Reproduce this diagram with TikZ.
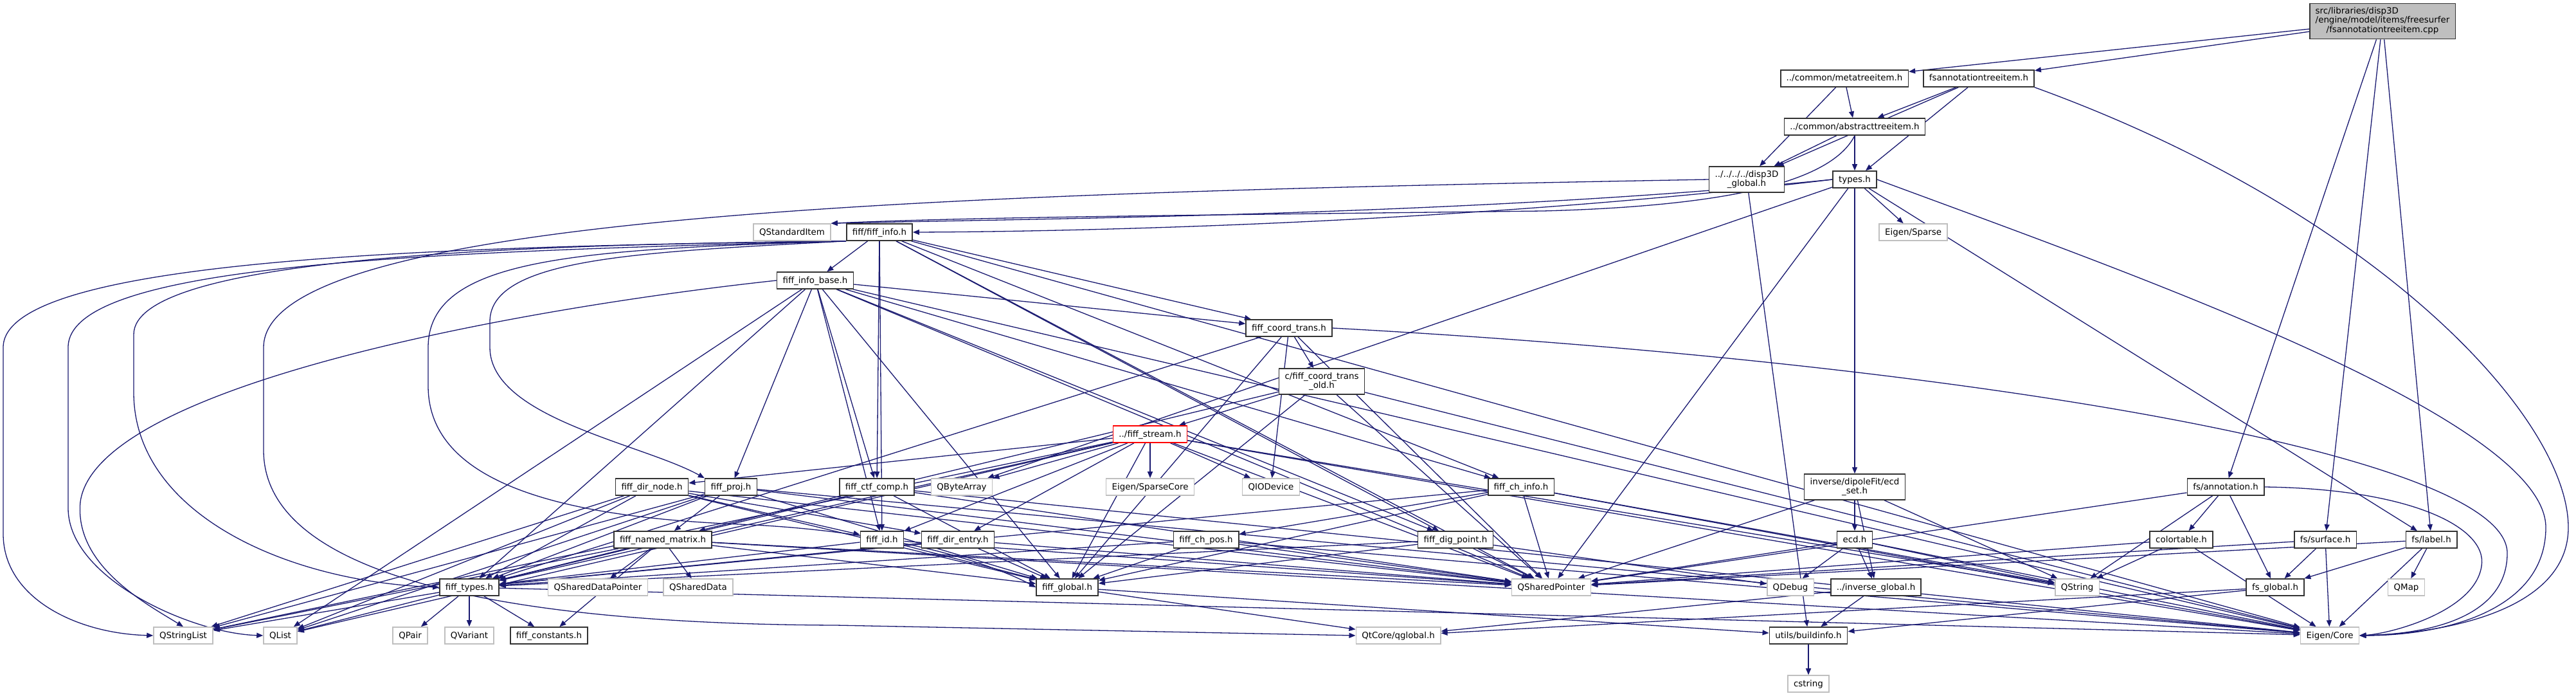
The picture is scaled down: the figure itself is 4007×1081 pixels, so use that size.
\documentclass[tikz,border=0pt]{standalone}
\usepackage{fontspec}
\setmainfont{DejaVu Sans}
\usetikzlibrary{arrows.meta}
\definecolor{edgeblue}{HTML}{191970}
\definecolor{sysgray}{HTML}{BFBFBF}
\pgfdeclarelayer{edges}
\pgfsetlayers{edges,main}
\tikzset{
  hdr/.style={draw=black!80, line width=0.8pt, fill=white, inner xsep=4.5pt, inner ysep=2.85pt,
    minimum height=13pt, text height=5.6pt, text depth=1.6pt, font=\fontsize{6.7}{7.25}\selectfont},
  sys/.style={hdr, draw=sysgray},
  trunc/.style={hdr, draw=red},
  root/.style={hdr, fill=sysgray, text height={}, text depth={}, inner ysep=2.9pt},
  multi/.style={align=center, text height={}, text depth={}, inner ysep=3pt},
  inc/.style={edgeblue, line width=0.65pt, -{Triangle[length=5pt,width=4pt]}},
}
\begin{document}
\begin{tikzpicture}[x=0.5pt, y=-0.5pt]
\useasboundingbox (0,0) rectangle (4007,1081);
\node[root] (main) at (3706,33) {\begin{tabular}{@{}l@{}}src/libraries/disp3D\\/engine/model/items/freesurfer\\\multicolumn{1}{@{}c@{}}{/fsannotationtreeitem.cpp}\end{tabular}};
\node[hdr] (fsatih) at (3078,122) {fsannotationtreeitem.h};
\node[hdr] (meta) at (2869,122) {../common/metatreeitem.h};
\node[hdr] (abstract) at (2885,197) {../common/abstracttreeitem.h};
\node[hdr, multi] (d3glob) at (2717,279) {../../../../disp3D\\\_global.h};
\node[hdr] (types) at (2885,279) {types.h};
\node[sys] (qstditem) at (1232,361) {QStandardItem};
\node[hdr] (finfo) at (1368,361) {fiff/fiff\_info.h};
\node[sys] (esparse) at (2976,361) {Eigen/Sparse};
\node[hdr] (fibase) at (1268,436) {fiff\_info\_base.h};
\node[hdr] (fct) at (2005,510) {fiff\_coord\_trans.h};
\node[hdr, multi] (fcto) at (2056,593) {c/fiff\_coord\_trans\\\_old.h};
\node[trunc] (fstream) at (1789,675) {../fiff\_stream.h};
\node[hdr] (fdirnode) at (1014,757) {fiff\_dir\_node.h};
\node[hdr] (fproj) at (1137,757) {fiff\_proj.h};
\node[hdr] (fctf) at (1364,757) {fiff\_ctf\_comp.h};
\node[sys] (qbytearray) at (1496,757) {QByteArray};
\node[sys] (esparsecore) at (1789,757) {Eigen/SparseCore};
\node[sys] (qiodevice) at (1977,757) {QIODevice};
\node[hdr] (fchinfo) at (2366,757) {fiff\_ch\_info.h};
\node[hdr, multi] (ecdset) at (2885,757) {inverse/dipoleFit/ecd\\\_set.h};
\node[hdr] (annot) at (3462,757) {fs/annotation.h};
\node[hdr] (fnamed) at (1031,839) {fiff\_named\_matrix.h};
\node[hdr] (fid) at (1372,839) {fiff\_id.h};
\node[hdr] (fdirentry) at (1490,839) {fiff\_dir\_entry.h};
\node[hdr] (fchpos) at (1876,839) {fiff\_ch\_pos.h};
\node[hdr] (fdigpoint) at (2264,839) {fiff\_dig\_point.h};
\node[hdr] (ecd) at (2885,839) {ecd.h};
\node[hdr] (colortable) at (3393,839) {colortable.h};
\node[hdr] (surface) at (3617,839) {fs/surface.h};
\node[hdr] (label) at (3782,839) {fs/label.h};
\node[hdr] (ftypes) at (730,913) {fiff\_types.h};
\node[sys] (qsdptr) at (930,913) {QSharedDataPointer};
\node[sys] (qsdata) at (1086,913) {QSharedData};
\node[hdr] (fglobal) at (1660,913) {fiff\_global.h};
\node[sys] (qsptr) at (2413,913) {QSharedPointer};
\node[sys] (qdebug) at (2785,913) {QDebug};
\node[hdr] (invglobal) at (2918,913) {../inverse\_global.h};
\node[sys] (qstring) at (3231,913) {QString};
\node[hdr] (fsglobal) at (3539,913) {fs\_global.h};
\node[sys] (qmap) at (3743,913) {QMap};
\node[sys] (qstringlist) at (285,988) {QStringList};
\node[sys] (qlist) at (436,988) {QList};
\node[sys] (qpair) at (638,988) {QPair};
\node[sys] (qvariant) at (730,988) {QVariant};
\node[hdr] (fconst) at (854,988) {fiff\_constants.h};
\node[sys] (qglobal) at (2175,988) {QtCore/qglobal.h};
\node[hdr] (buildinfo) at (2813,988) {utils/buildinfo.h};
\node[sys] (ecore) at (3624,988) {Eigen/Core};
\node[sys] (cstring) at (2813,1063) {cstring};
\begin{pgfonlayer}{edges}
\foreach \t in {fsatih,meta,annot,surface,label} \draw[inc] (main) -- (\t);
\foreach \t in {abstract,types,d3glob} \draw[inc] (fsatih) -- (\t);
\foreach \t in {abstract,d3glob} \draw[inc] (meta) -- (\t);
\foreach \t in {d3glob,types} \draw[inc] (abstract) -- (\t);
\draw[inc] (d3glob) -- (buildinfo);
\foreach \t in {qbytearray,qsptr,ecdset,label,esparse} \draw[inc] (types) -- (\t);
\foreach \t in {fibase,fct,fctf,fchinfo,fdigpoint,fid,qsptr,ecore} \draw[inc] (finfo) -- (\t);
\foreach \t in {fct,fproj,fctf,fchinfo,fdigpoint,fid,ftypes,fglobal,qsptr,qlist,ecore} \draw[inc] (fibase) -- (\t);
\foreach \t in {fcto,ftypes,fglobal,qsptr,qiodevice} \draw[inc] (fct) -- (\t);
\foreach \t in {fstream,ftypes,fglobal,qsptr,ecore} \draw[inc] (fcto) -- (\t);
\foreach \t in {fdirnode,fid,fdirentry,qbytearray,esparsecore,qiodevice,fglobal,ftypes,qsptr,qstringlist,qlist,qstring,ecore} \draw[inc] (fstream) -- (\t);
\foreach \t in {fdirentry,fid,ftypes,fglobal,qsptr,qstringlist,qlist} \draw[inc] (fdirnode) -- (\t);
\foreach \t in {fnamed,ftypes,fglobal,qsptr,qstringlist,qlist,ecore} \draw[inc] (fproj) -- (\t);
\foreach \t in {fnamed,fglobal,qsptr,ecore} \draw[inc] (fctf) -- (\t);
\foreach \t in {fchpos,ftypes,fglobal,qsptr,qstring,ecore} \draw[inc] (fchinfo) -- (\t);
\foreach \t in {ecd,invglobal,qsptr,qstring} \draw[inc] (ecdset) -- (\t);
\foreach \t in {colortable,fsglobal,qstring,qsptr} \draw[inc] (annot) -- (\t);
\foreach \t in {ftypes,fglobal,qsdptr,qsdata,qsptr,fconst,qstringlist,ecore} \draw[inc] (fnamed) -- (\t);
\foreach \t in {ftypes,fglobal,qsptr} \draw[inc] (fid) -- (\t);
\foreach \t in {ftypes,fglobal,qsptr} \draw[inc] (fdirentry) -- (\t);
\foreach \t in {ftypes,fglobal,qsptr,ecore} \draw[inc] (fchpos) -- (\t);
\foreach \t in {ftypes,fglobal,qsptr,qdebug} \draw[inc] (fdigpoint) -- (\t);
\foreach \t in {qdebug,invglobal,qsptr,qstring,ecore} \draw[inc] (ecd) -- (\t);
\foreach \t in {qstring,qsptr,ecore} \draw[inc] (colortable) -- (\t);
\foreach \t in {fsglobal,ecore,qsptr} \draw[inc] (surface) -- (\t);
\foreach \t in {fsglobal,qmap,ecore,qsptr} \draw[inc] (label) -- (\t);
\foreach \s in {fsglobal,invglobal,fglobal} \draw[inc] (\s) -- (qglobal);
\foreach \s in {fsglobal,invglobal,fglobal} \draw[inc] (\s) -- (buildinfo);
\draw[inc] (buildinfo) -- (cstring);
\foreach \t in {qstringlist,qlist,qpair,qvariant,fconst,ecore} \draw[inc] (ftypes) -- (\t);
% long edges routed round the other nodes
\draw[inc] (types.west) .. controls (2300,335) and (1600,340) .. (qstditem.north east);
\draw[inc] (types.west) .. controls (2300,345) and (1700,360) .. (finfo.east);
\draw[inc] (abstract.south) .. controls (2850,280) and (2700,320) .. (2400,328)
  .. controls (1800,335) and (1500,338) .. (qstditem.north east);
\draw[inc] (d3glob.west) .. controls (1500,300) and (410,330) .. (410,540) -- (410,700)
  .. controls (410,900) and (800,970) .. (1300,972) -- (qglobal.west);
\draw[inc] (finfo.south west) .. controls (700,383) and (5,400) .. (5,540) -- (5,830)
  .. controls (5,930) and (120,985) .. (qstringlist.west);
\draw[inc] (finfo.south west) .. controls (650,392) and (106,410) .. (106,540) -- (106,790)
  .. controls (106,900) and (300,985) .. (qlist.west);
\draw[inc] (finfo.south west) .. controls (800,380) and (208,400) .. (208,520) -- (208,610)
  .. controls (208,800) and (450,905) .. (ftypes.west);
\draw[inc] (finfo.south west) .. controls (900,388) and (666,400) .. (666,540) -- (666,600)
  .. controls (666,760) and (900,805) .. (1150,815) .. controls (1400,825) and (1550,880) .. (fglobal.west);
\draw[inc] (finfo.south west) .. controls (1000,392) and (762,400) .. (762,500) -- (762,540)
  .. controls (762,650) and (1000,690) .. (fproj.north west);
\draw[inc] (fibase.west) .. controls (800,480) and (150,600) .. (125,780)
  .. controls (115,880) and (230,940) .. (qstringlist.north);
\draw[inc] (fsatih.south east) .. controls (3700,330) and (3995,650) .. (3995,820)
  .. controls (3995,950) and (3800,985) .. (ecore.east);
\draw[inc] (types.east) .. controls (3300,420) and (3960,650) .. (3960,820)
  .. controls (3960,950) and (3800,988) .. (ecore.east);
\draw[inc] (annot.east) .. controls (3750,760) and (3870,820) .. (3860,880)
  .. controls (3850,950) and (3720,985) .. (ecore.east);
\draw[inc] (fct.east) .. controls (3000,560) and (3900,700) .. (3900,860)
  .. controls (3900,950) and (3800,985) .. (ecore.east);
\end{pgfonlayer}
\end{tikzpicture}
\end{document}
